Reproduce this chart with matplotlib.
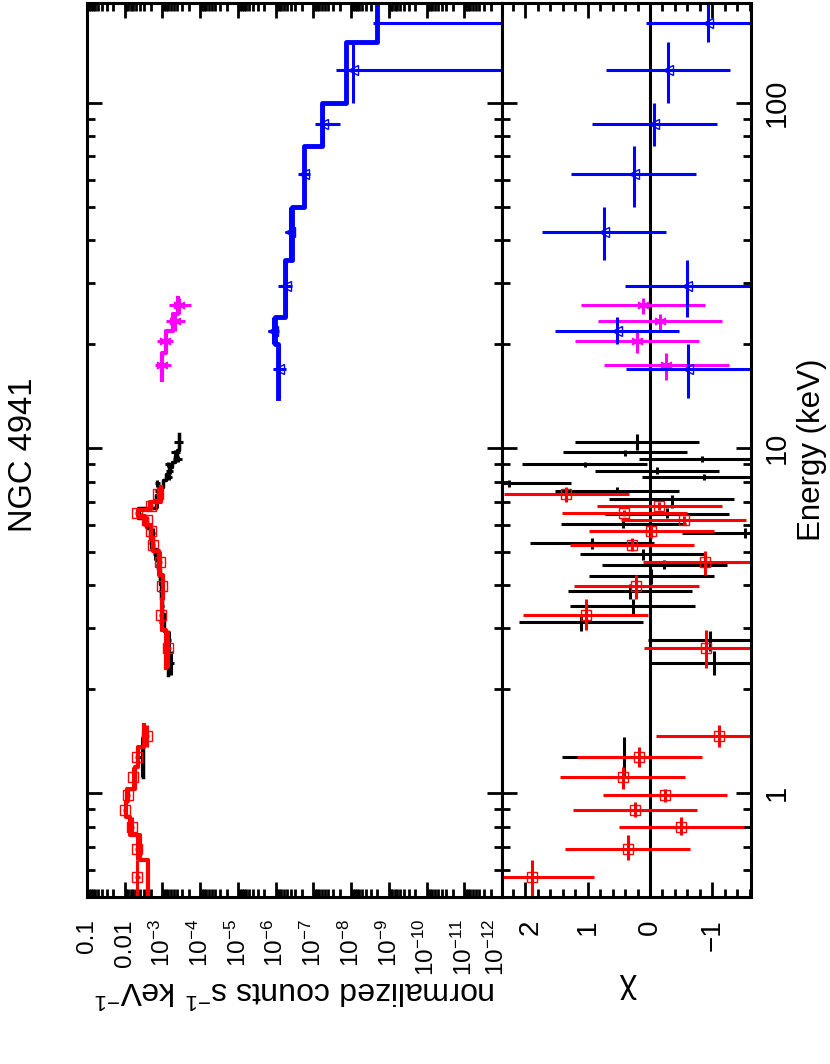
import numpy as np
import matplotlib
matplotlib.use("Agg")
import matplotlib.pyplot as plt
from matplotlib.transforms import ScaledTranslation
from matplotlib.ticker import LogLocator, FuncFormatter, MultipleLocator, NullFormatter

plt.rcParams['font.family'] = ['Liberation Sans', 'DejaVu Sans']
plt.rcParams['mathtext.fontset'] = 'custom'
plt.rcParams['mathtext.rm'] = 'Liberation Sans'
plt.rcParams['mathtext.it'] = 'Liberation Sans:italic'
plt.rcParams['mathtext.sf'] = 'Liberation Sans'

# ---- data (energies in keV, fluxes as log10 of normalized counts/s/keV) ----
# red, soft band
red_s_elo = [0.50, 0.64, 0.755, 0.85, 0.94, 1.03, 1.19, 1.36]
red_s_ehi = [0.64, 0.755, 0.85, 0.94, 1.03, 1.19, 1.36, 1.58]
red_s_e = [0.57, 0.69, 0.80, 0.895, 0.985, 1.11, 1.27, 1.46]
red_s_logf = [-2.33, -2.33, -2.19, -2.01, -2.10, -2.23, -2.32, -2.59]
red_s_err = [0.07, 0.06, 0.05, 0.05, 0.05, 0.05, 0.05, 0.06]
red_s_model = [-2.62, -2.41, -2.15, -2.04, -2.07, -2.27, -2.34, -2.50]
red_s_chi = [1.90, 0.36, -0.50, 0.24, -0.24, 0.44, 0.17, -1.10]

# red, hard band
red_h_elo = [2.30, 2.96, 3.66, 4.30, 5.03, 5.50, 6.00, 6.35, 6.62, 7.00]
red_h_ehi = [2.96, 3.66, 4.30, 5.03, 5.50, 6.00, 6.35, 6.62, 7.00, 7.70]
red_h_e = [2.64, 3.29, 3.99, 4.69, 5.25, 5.76, 6.19, 6.48, 6.79, 7.36]
red_h_logf = [-3.16, -2.95, -3.00, -2.94, -2.74, -2.69, -2.58, -2.32, -2.69, -2.89]
red_h_err = [0.06, 0.05, 0.05, 0.05, 0.05, 0.05, 0.05, 0.05, 0.06, 0.07]
red_h_model = [-3.10, -3.00, -3.01, -2.90, -2.76, -2.69, -2.55, -2.36, -2.67, -2.95]
red_h_chi = [-0.90, 1.03, 0.22, -0.88, 0.29, -0.02, -0.54, 0.41, -0.15, 1.34]

# black, soft band (one wide bin)
blk_s_elo = [1.11]
blk_s_ehi = [1.45]
blk_s_e = [1.27]
blk_s_logf = [-2.45]
blk_s_err = [0.06]
blk_s_model = [-2.48]
blk_s_chi = [0.42]

# black, hard band
blk_h_elo = [2.20, 2.58, 2.95, 3.30, 3.65, 4.05, 4.45, 4.75, 5.10, 5.50, 5.85,
             6.25, 6.70, 7.30, 7.70, 8.10, 8.40, 8.80, 9.10, 9.50, 9.85]
blk_h_ehi = [2.58, 2.95, 3.30, 3.65, 4.05, 4.45, 4.75, 5.10, 5.50, 5.85, 6.25,
             6.70, 7.30, 7.70, 8.10, 8.40, 8.80, 9.10, 9.50, 9.85, 11.0]
blk_h_e = [2.39, 2.77, 3.14, 3.49, 3.84, 4.27, 4.59, 4.94, 5.31, 5.68, 6.03,
           6.45, 7.13, 7.51, 7.92, 8.25, 8.59, 8.99, 9.29, 9.72, 10.4]
blk_h_logf = [-3.24, -3.17, -2.97, -2.98, -2.95, -2.93, -2.89, -2.81, -2.69, -2.74, -2.57,
              -2.38, -2.85, -2.88, -2.86, -3.17, -3.19, -3.16, -3.40, -3.34, -3.43]
blk_h_err = [0.06, 0.06, 0.05, 0.05, 0.05, 0.05, 0.05, 0.05, 0.05, 0.05, 0.05,
             0.05, 0.06, 0.07, 0.07, 0.08, 0.09, 0.10, 0.11, 0.12, 0.12]
blk_h_model = [-3.16, -3.10, -3.04, -3.00, -2.97, -2.93, -2.88, -2.82, -2.74, -2.66, -2.60,
               -2.36, -2.82, -2.92, -3.02, -3.10, -3.18, -3.26, -3.32, -3.38, -3.45]
blk_h_chi = [-1.02, -0.97, 1.11, 0.28, 0.32, -0.02, -0.23, 0.12, 0.93, -1.52, 0.43,
             -0.27, -0.35, 0.53, 2.27, -0.87, -0.11, 1.05, -0.83, 0.40, 0.21]

# magenta
mag_elo = [15.8, 18.9, 21.9, 24.4]
mag_ehi = [18.9, 21.9, 24.4, 27.3]
mag_e = [17.4, 20.4, 23.3, 25.9]
mag_logf = [-2.98, -3.07, -3.33, -3.44]
mag_loghi = [-2.80, -2.86, -3.10, -3.18]
mag_loglo = [-3.22, -3.27, -3.60, -3.75]
mag_model = [-2.98, -3.10, -3.29, -3.42]
mag_chi = [-0.26, 0.21, -0.16, 0.11]

# blue (8 bands, last one below the plot range)
blu_elo = [14, 20, 24, 35, 50, 75, 100, 150]
blu_ehi = [20, 24, 35, 50, 75, 100, 150, 195]
blu_e = [17.0, 21.9, 29.4, 42.4, 62.4, 87.0, 124.6, 171.0]
blu_logf = [-6.08, -5.94, -6.27, -6.38, -6.76, -7.26, -8.06, -13.0]
blu_loghi = [-5.93, -5.79, -6.07, -6.25, -6.59, -7.05, -7.60, -8.59]
blu_loglo = [-6.28, -6.10, -6.44, -6.52, -6.92, -7.71, -14.0, -14.0]
blu_model = [-6.07, -5.99, -6.25, -6.44, -6.76, -7.23, -7.87, -8.69]
blu_chi = [-0.61, 0.53, -0.60, 0.74, 0.26, -0.07, -0.29, -0.93]


def step_xy(lo, hi, vals):
    xs, ys = [], []
    for a, b, v in zip(lo, hi, vals):
        xs += [v, v]
        ys += [a, b]
    return xs, ys


def eerr(e, lo, hi):
    e = np.array(e)
    return [e - np.array(lo), np.array(hi) - e]


fig = plt.figure(figsize=(8.3, 10.64), dpi=100)
ax1 = fig.add_axes([0.1048, 0.1570, 0.5000, 0.8402])
ax2 = fig.add_axes([0.6048, 0.1570, 0.3000, 0.8402])

elw = 2.2
star = (6, 2, 0)
sets = [
    ('black', blk_s_elo, blk_s_ehi, blk_s_e, blk_s_logf, blk_s_err, blk_s_model, blk_s_chi, 'None'),
    ('black', blk_h_elo, blk_h_ehi, blk_h_e, blk_h_logf, blk_h_err, blk_h_model, blk_h_chi, 'None'),
    ('red', red_s_elo, red_s_ehi, red_s_e, red_s_logf, red_s_err, red_s_model, red_s_chi, 's'),
    ('red', red_h_elo, red_h_ehi, red_h_e, red_h_logf, red_h_err, red_h_model, red_h_chi, 's'),
]

# upper panel: spectra
for col, elo, ehi, e, lf, err, mod, chi, mk in sets:
    f = 10 ** np.array(lf)
    fe = [f - f * 10 ** (-np.array(err)), f * 10 ** np.array(err) - f]
    ax1.errorbar(f, e, xerr=fe, yerr=eerr(e, elo, ehi), fmt='none', ecolor=col,
                 elinewidth=elw, capsize=0)
    ax1.plot(f, e, ls='none', marker=mk, mfc='none', mec=col, ms=7, mew=1.0)
    xs, ys = step_xy(elo, ehi, 10 ** np.array(mod))
    ax1.plot(xs, ys, color=col, lw=3.0 if col == 'red' else 2.5)

f = 10 ** np.array(mag_logf)
fe = [f - 10 ** np.array(mag_loglo), 10 ** np.array(mag_loghi) - f]
ax1.errorbar(f, mag_e, xerr=fe, yerr=eerr(mag_e, mag_elo, mag_ehi), fmt='none',
             ecolor='#ff00ff', elinewidth=elw, capsize=0)
ax1.plot(f, mag_e, ls='none', marker=star, color='#ff00ff', ms=9, mew=1.2)
xs, ys = step_xy(mag_elo, mag_ehi, 10 ** np.array(mag_model))
ax1.plot(xs, ys, color='#ff00ff', lw=3.0)

f = 10 ** np.array(blu_logf)
fe = [f - 10 ** np.array(blu_loglo), 10 ** np.array(blu_loghi) - f]
ax1.errorbar(f, blu_e, xerr=fe, yerr=eerr(blu_e, blu_elo, blu_ehi), fmt='none',
             ecolor='#0000ff', elinewidth=elw, capsize=0)
ax1.plot(f, blu_e, ls='none', marker='<', mfc='none', mec='#0000ff', ms=7.5, mew=1.0)
xs, ys = step_xy(blu_elo, blu_ehi, 10 ** np.array(blu_model))
ax1.plot(xs, ys, color='#0000ff', lw=3.5)

# lower panel: residuals
ax2.axvline(0, color='black', lw=2.2, zorder=1)
for col, elo, ehi, e, lf, err, mod, chi, mk in sets:
    ax2.errorbar(chi, e, xerr=1.0, yerr=eerr(e, elo, ehi), fmt='none', ecolor=col,
                 elinewidth=elw, capsize=0)
    ax2.plot(chi, e, ls='none', marker=mk, mfc='none', mec=col, ms=7, mew=1.0)
ax2.errorbar(mag_chi, mag_e, xerr=1.0, yerr=eerr(mag_e, mag_elo, mag_ehi), fmt='none',
             ecolor='#ff00ff', elinewidth=elw, capsize=0)
ax2.plot(mag_chi, mag_e, ls='none', marker=star, color='#ff00ff', ms=9, mew=1.2)
ax2.errorbar(blu_chi, blu_e, xerr=1.0, yerr=eerr(blu_e, blu_elo, blu_ehi), fmt='none',
             ecolor='#0000ff', elinewidth=elw, capsize=0)
ax2.plot(blu_chi, blu_e, ls='none', marker='<', mfc='none', mec='#0000ff', ms=7.5, mew=1.0)

# axes setup
for ax in (ax1, ax2):
    ax.set_yscale('log')
    ax.set_ylim(0.5, 195)
    ax.yaxis.set_major_locator(LogLocator(base=10, numticks=20))
    ax.yaxis.set_minor_locator(LogLocator(base=10, subs=np.arange(2, 10), numticks=50))
    ax.tick_params(which='both', direction='in', top=True, bottom=True,
                   left=True, right=True, width=2.0)
    ax.tick_params(which='major', length=10.8)
    ax.tick_params(which='minor', length=5.8)
    for sp in ax.spines.values():
        sp.set_linewidth(2.2)

ax1.set_xscale('log')
ax1.set_xlim(0.1, 1e-12)
ax1.xaxis.set_major_locator(LogLocator(base=10, numticks=30))
ax1.xaxis.set_minor_locator(LogLocator(base=10, subs=np.arange(2, 10), numticks=100))


def flux_fmt(v, pos):
    p = int(round(np.log10(v)))
    if p == -1:
        return '0.1'
    if p == -2:
        return '0.01'
    return '$10^{%d}$' % p


ax1.xaxis.set_major_formatter(FuncFormatter(flux_fmt))
ax1.xaxis.set_minor_formatter(NullFormatter())
ax1.yaxis.set_major_formatter(NullFormatter())
ax1.yaxis.set_minor_formatter(NullFormatter())
ax1.tick_params(axis='x', labelrotation=90, labelsize=17.5, pad=16)
ax1.tick_params(axis='y', labelleft=False, labelright=False)

ax2.set_xlim(2.375, -1.62)
ax2.xaxis.set_major_locator(MultipleLocator(1))
ax2.xaxis.set_minor_locator(MultipleLocator(0.2))
ax2.tick_params(axis='x', labelrotation=90, labelsize=20, pad=16)
ax2.yaxis.set_major_formatter(FuncFormatter(lambda v, p: '%g' % v))
ax2.yaxis.set_minor_formatter(NullFormatter())
ax2.tick_params(axis='y', labelleft=False, labelright=True, labelrotation=90,
                labelsize=21, pad=8.6)
for lbl in ax2.get_yticklabels():
    lbl.set_va('center')
    lbl.set_ha('left')

ax1.set_xlabel('normalized counts s$^{-1}$ keV$^{-1}$', fontsize=23, rotation=180,
               ha='center', va='center')
ax1.xaxis.set_label_coords(0.5, -0.104)
ax2.set_xlabel('\u03c7', fontsize=24, rotation=180, ha='center', va='center')
ax2.xaxis.set_label_coords(0.506, -0.102)
ax2.yaxis.set_label_position('right')
ax2.set_ylabel('Energy (keV)', fontsize=22.5, rotation=90, ha='center', va='center')
ax2.yaxis.set_label_coords(1.245, 0.5)

fig.text(24 / 830, 1 - 455 / 1064, 'NGC 4941', rotation=90, fontsize=23.5,
         ha='center', va='center')

# the last flux label and the chi "2" label sit edge to edge; pull them apart a little
fig.canvas.draw()
for lbl in ax1.get_xticklabels():
    if '-12' in lbl.get_text():
        lbl.set_transform(lbl.get_transform() + ScaledTranslation(-4 / 72, 0, fig.dpi_scale_trans))
for lbl in ax2.get_xticklabels():
    if lbl.get_text() == '2':
        lbl.set_transform(lbl.get_transform() + ScaledTranslation(4 / 72, 0, fig.dpi_scale_trans))

fig.savefig('out.png', dpi=100)
